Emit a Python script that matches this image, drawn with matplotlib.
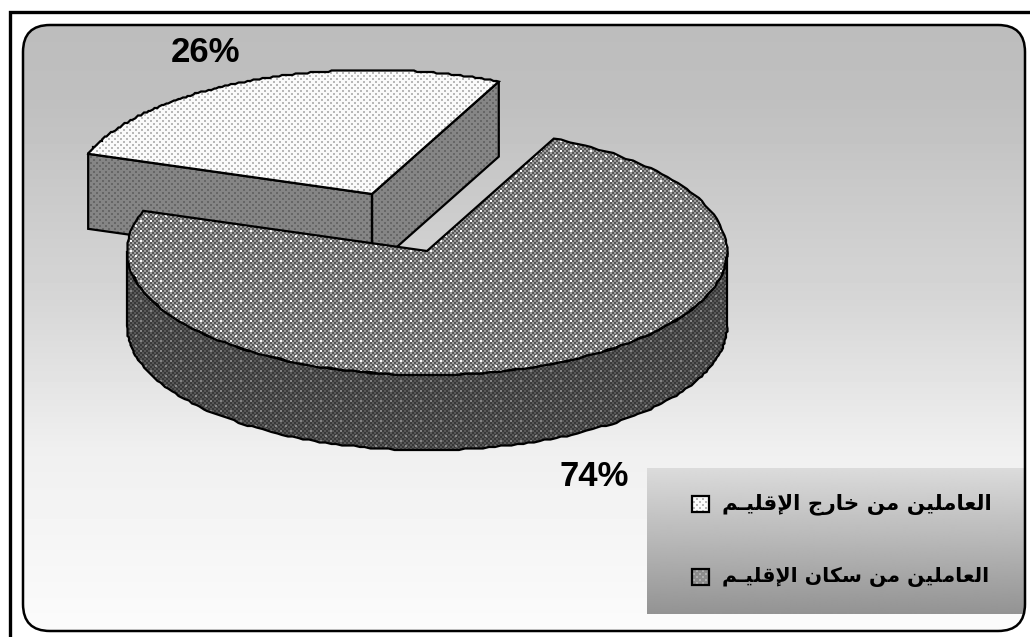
"""plot.py - exploded 3D-look pie of workers by origin, drawn on pixel coordinates."""
import matplotlib
matplotlib.use("Agg")
import matplotlib.pyplot as plt
import numpy as np
from matplotlib.patches import FancyBboxPatch, Polygon

W, H = 1030, 637

# Arabic text in presentation forms, logical order (matplotlib does no shaping)
LABELS = [
    "\uFE8D\uFEDF\uFECC\uFE8E\uFEE3\uFEE0\uFEF4\uFEE6 \uFEE3\uFEE6 "
    "\uFEA7\uFE8E\uFEAD\uFE9D \uFE8D\uFEF9\uFED7\uFEE0\uFEF4\u0640\uFEE2",
    "\uFE8D\uFEDF\uFECC\uFE8E\uFEE3\uFEE0\uFEF4\uFEE6 \uFEE3\uFEE6 "
    "\uFEB3\uFEDC\uFE8E\uFEE5 \uFE8D\uFEF9\uFED7\uFEE0\uFEF4\u0640\uFEE2",
]
VALUES = [26, 74]

# pie geometry, pixels
CX, CY = 427, 251
RX, RY = 300, 124
DEPTH = 75
START = 65  # degrees where the 74% slice begins, going clockwise
SKEW = 2.5  # the original's perspective opens the small slice a little
EXPLODE = (-55, -57)
STEP = 1.5  # arcs in the original are slightly stair-stepped


def vertical_gradient(stops):
    ys, vs = zip(*stops)
    col = np.interp(np.arange(H), ys, vs)
    return np.repeat(col[:, None], W, axis=1)


def texture(base, spot, period, block=0, dark=None, spot_size=2):
    """Dither pattern as in old office charts: optional checker plus a staggered dot lattice."""
    yy, xx = np.mgrid[0:H, 0:W]
    img = np.full((H, W), base, dtype=float)
    if block:
        img[((xx // block) + (yy // block)) % 2 == 0] = dark
    odd = (yy // (period // 2)) % 2
    xs = (xx + odd * (period // 2)) % period
    ys = yy % (period // 2)
    img[(xs < spot_size) & (ys < spot_size)] = spot
    return img


def arc(a0, a1, dx=0, dy=0, n=160):
    t = np.radians(np.linspace(a0, a1, n))
    pts = np.column_stack([CX + dx + RX * np.cos(t), CY + dy - RY * np.sin(t)])
    pts[1:-1] = np.round(pts[1:-1] / STEP) * STEP
    return pts


def fill(ax, pts, tex, z, lw=1.6):
    poly = Polygon(pts, closed=True, fc="none", ec="black", lw=lw, zorder=z + 0.5, joinstyle="miter")
    ax.add_patch(poly)
    im = ax.imshow(tex, cmap="gray", vmin=0, vmax=1, extent=(0, W, H, 0), aspect="auto",
                   interpolation="nearest", zorder=z)
    im.set_clip_path(poly)


LIGHT_TOP = texture(0.98, 0.72, 6)
LIGHT_SIDE = texture(0.52, 0.40, 6)
MAIN_TOP = texture(0.62, 0.99, 10, block=2, dark=0.34)
MAIN_SIDE = texture(0.34, 0.52, 10, block=2, dark=0.22)
SWATCH_DARK = texture(0.55, 0.68, 6)

fig = plt.figure(figsize=(W / 100, H / 100), dpi=100)
ax = fig.add_axes([0, 0, 1, 1])
ax.set_xlim(0, W)
ax.set_ylim(H, 0)
ax.axis("off")

# outer frame has only top and left lines
ax.plot([9.5, 9.5, W], [H, 12, 12], color="black", lw=2.4, solid_joinstyle="miter", zorder=1)

# rounded chart area with gradient
rr = FancyBboxPatch((23, 25), 1002, 606, boxstyle="round,pad=0,rounding_size=27",
                    fc="none", ec="black", lw=1.8, zorder=20)
ax.add_patch(rr)
bg = ax.imshow(vertical_gradient([(25, 0.74), (100, 0.75), (300, 0.84), (450, 0.94), (631, 0.985)]),
               cmap="gray", vmin=0, vmax=1, extent=(0, W, H, 0), aspect="auto",
               interpolation="bilinear", zorder=2)
bg.set_clip_path(rr)

# slices from the values
sweep_main = 360 * VALUES[1] / sum(VALUES) - SKEW
end_main = START - sweep_main  # clockwise
a_left = end_main + 360  # 26% slice runs from START to here
ex, ey = EXPLODE

# exploded slice: two cut faces and the top
left = arc(a_left, a_left, ex, ey, 1)[0]
right = arc(START, START, ex, ey, 1)[0]
apex = np.array([CX + ex, CY + ey])
fill(ax, [left, apex, apex + (0, DEPTH), left + (0, DEPTH)], LIGHT_SIDE, 5)
fill(ax, [apex, right, right + (0, DEPTH), apex + (0, DEPTH)], LIGHT_SIDE, 5)
fill(ax, np.vstack([[apex], arc(START, a_left, ex, ey)]), LIGHT_TOP, 6)

# main slice: outer wall and the top
front = arc(180, 360)
wall = np.vstack([front, (front + (0, DEPTH))[::-1]])
fill(ax, wall, MAIN_SIDE, 8)
fill(ax, np.vstack([[(CX, CY)], arc(START, end_main)]), MAIN_TOP, 9)

# percent labels
for val, pos in zip(VALUES, [(205, 52), (594, 477)]):
    ax.text(*pos, f"{val}%", family="Liberation Sans", weight="bold", fontsize=25,
            ha="center", va="center", zorder=12)

# legend box, clipped by the rounded area
yy = np.linspace(0.86, 0.58, 146)
lg = ax.imshow(yy[:, None], cmap="gray", vmin=0, vmax=1, extent=(647, 1025, 614, 468),
               aspect="auto", interpolation="bilinear", zorder=15)
lg.set_clip_path(rr)

for label, tex, y, size in zip(LABELS, [LIGHT_TOP, SWATCH_DARK], [504, 577], [15.4, 14.7]):
    ax.text(722, y, label[::-1], family="DejaVu Sans", weight="bold", fontsize=size,
            ha="left", va="center", zorder=16)
    fill(ax, [(692, y - 8), (709, y - 8), (709, y + 8), (692, y + 8)], tex, 16, lw=1.6)

ax.set_xlim(0, W)
ax.set_ylim(H, 0)
fig.savefig("out.png", dpi=100)
